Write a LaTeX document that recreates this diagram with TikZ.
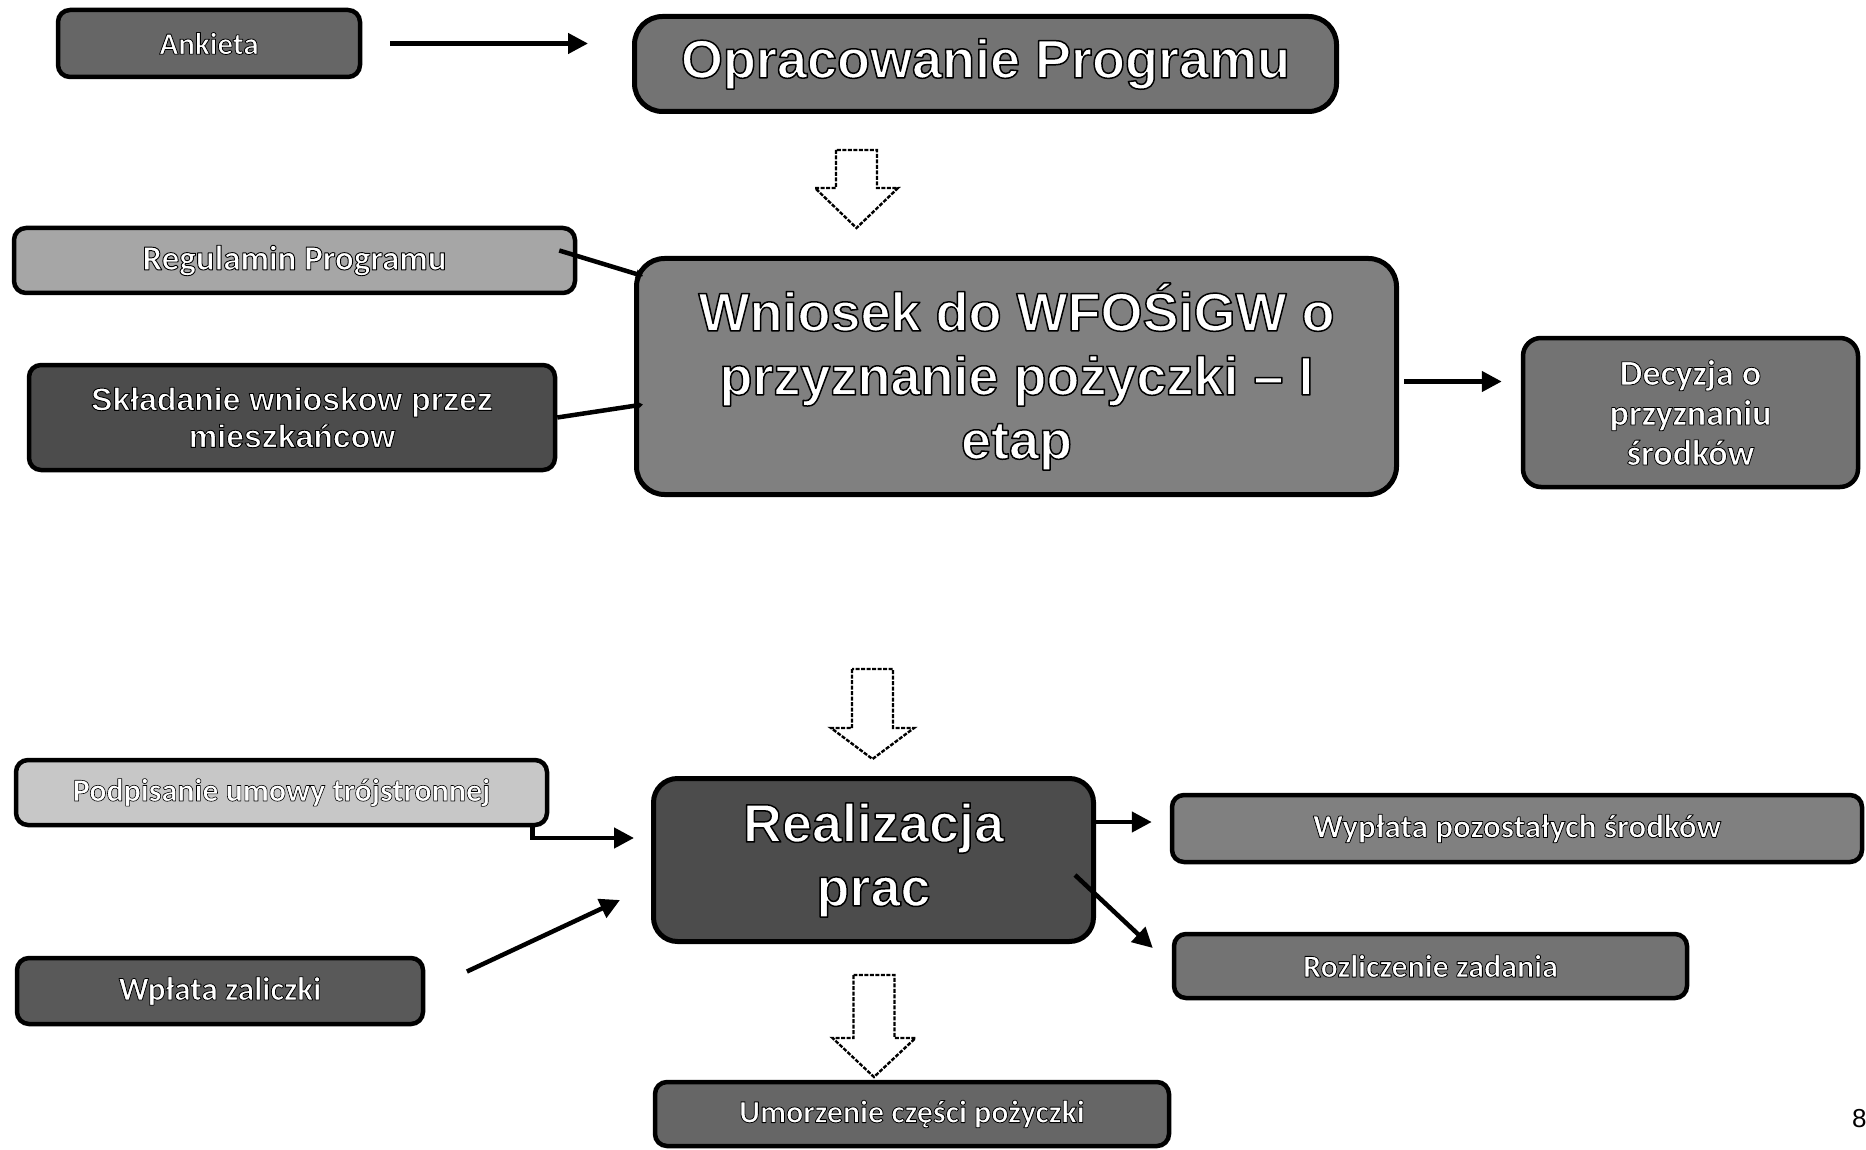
\documentclass[tikz,border=0pt]{standalone}
\usepackage{fontspec}
\setmainfont{Liberation Sans}
\newfontfamily\calib{Carlito}
\usetikzlibrary{arrows.meta}
% white letters with a black rim
\newcommand\halo[2]{\special{pdf:literal direct 0 G 1 j #1 w 2 Tr}#2\special{pdf:literal direct 0 Tr}}

\begin{document}
\begin{tikzpicture}[
        x=1pt, y=-1pt,
        box/.style={draw, line width=4.5pt, rounded corners=12pt, text=white, align=center, inner sep=0pt},
        bigbox/.style={box, line width=5pt, rounded corners=28pt, font=\fontsize{54}{64}\selectfont\bfseries},
        smallbox/.style={box, font=\calib\fontsize{32}{40}\selectfont\bfseries},
        arr/.style={line width=4.5pt, -{Triangle[length=20pt,width=20pt]}},
        tinyarr/.style={line width=4.5pt, -{Triangle[length=7pt,width=9pt]}},
        pics/downblock/.style n args={2}{code={
            \draw[fill=white, line width=2.4pt, dash pattern=on 4pt off 1.5pt, line join=miter]
                (-20.5,0) -- (-20.5,#1) -- (-41.5,#1) -- (0,#2) -- (41.5,#1) -- (20.5,#1) -- (20.5,0) -- cycle;
        }},
    ]
    \useasboundingbox (0,0) rectangle (1866,1150);

    % top part
    \node[smallbox, fill=black!60, minimum width=302pt, minimum height=67pt,
        font=\calib\fontsize{31}{36}\selectfont\bfseries] (ankieta) at (209,43.5) {\halo{0.8}{Ankieta}};
    \node[bigbox, fill=black!55, minimum width=702pt, minimum height=95pt] (oprac) at (985.5,64) {\halo{1.5}{Opracowanie Programu}};
    \node[smallbox, fill=black!35, minimum width=561pt, minimum height=65pt,
        font=\calib\fontsize{35}{40}\selectfont\bfseries] (regul) at (294.5,260.5) {\halo{0.9}{Regulamin Programu}};
    \node[smallbox, fill=black!70, minimum width=526pt, minimum height=105pt,
        font=\fontsize{32}{37}\selectfont\bfseries] (sklad) at (292,417.5) {\halo{0.9}{Składanie wnioskow przez\\mieszkańcow}};
    \node[bigbox, fill=black!50, minimum width=760pt, minimum height=236pt] (wniosek) at (1016.5,376.5)
        {\halo{1.5}{Wniosek do WFOŚiGW o\\przyznanie pożyczki – I\\etap}};
    \node[smallbox, fill=black!55, minimum width=335pt, minimum height=149pt, rounded corners=18pt,
        font=\calib\fontsize{36}{40}\selectfont\bfseries] (decyzja) at (1690.5,412.5) {\halo{0.8}{Decyzja o\\przyznaniu\\środków}};

    % bottom part
    \node[smallbox, fill=black!22, minimum width=531pt, minimum height=65pt] (podpis) at (281.5,792.5) {\halo{0.6}{Podpisanie umowy trójstronnej}};
    \node[bigbox, fill=black!70, minimum width=440pt, minimum height=163pt, rounded corners=24pt] (realiz) at (873.5,860) {\halo{1.5}{Realizacja\\prac}};
    \node[smallbox, fill=black!65, minimum width=406pt, minimum height=66pt,
        font=\calib\fontsize{33}{40}\selectfont\bfseries] (wplata) at (220,991) {\halo{0.8}{Wpłata zaliczki}};
    \node[smallbox, fill=black!50, minimum width=690pt, minimum height=67pt,
        font=\calib\fontsize{33}{40}\selectfont\bfseries] (wyplata) at (1517,828.5) {\halo{0.8}{Wypłata pozostałych środków}};
    \node[smallbox, fill=black!55, minimum width=513pt, minimum height=64pt] (rozlicz) at (1430.5,966) {\halo{0.8}{Rozliczenie zadania}};
    \node[smallbox, fill=black!60, minimum width=514pt, minimum height=64pt] (umorz) at (912,1114) {\halo{0.8}{Umorzenie części pożyczki}};
    \node[font=\fontsize{26}{26}\selectfont, anchor=west, inner sep=0pt] (pagenum) at (1852,1119) {8};

    % hollow block arrows
    \pic at (856.5,150) {downblock={38}{78}};
    \pic at (872.5,669) {downblock={59}{90}};
    \pic at (874,975) {downblock={63}{102}};

    % connectors
    \draw[arr, shorten <=28pt, shorten >=44pt] (ankieta.east) -- (oprac.west |- ankieta.east);
    \draw[tinyarr] ([xshift=-18pt,yshift=10pt]regul.east) -- ([xshift=9pt,yshift=-20pt]wniosek.north west);
    \draw[tinyarr] (sklad.east) -- ([xshift=9pt,yshift=-28pt]wniosek.west);
    \draw[arr, shorten <=5pt, shorten >=19pt] ([yshift=-5pt]wniosek.east) -- ([yshift=-5pt]decyzja.west |- wniosek.east);
    \draw[arr, shorten >=17pt] ([xshift=-17pt]podpis.south east) |- ([yshift=22pt]realiz.west);
    \draw[arr, shorten <=46pt] (wplata.east) -- ([xshift=-31pt,yshift=-40pt]realiz.west);
    \draw[arr, shorten >=18pt] ([xshift=-5pt,yshift=38pt]realiz.east) -- ([yshift=6.5pt]wyplata.west);
    \draw[arr] ([xshift=-21pt,yshift=-15pt]realiz.east) -- ([xshift=-19pt,yshift=18pt]rozlicz.west);
\end{tikzpicture}
\end{document}
